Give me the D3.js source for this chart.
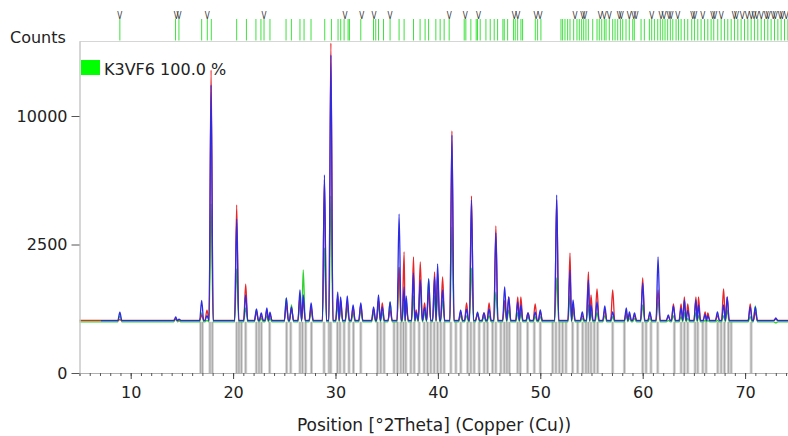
<!DOCTYPE html>
<html>
<head>
<meta charset="utf-8">
<script src="https://cdn.jsdelivr.net/npm/d3@7"></script>
<style>
  body { margin: 0; background: #fff; }
  svg { display: block; font-family: "DejaVu Sans", Verdana, sans-serif; }
</style>
</head>
<body>
<div id="box"></div>
<script>
// peak positions (deg 2Theta) and peak tops of the three profiles (counts)
var peakPos = [8.94, 14.40, 14.72, 16.93, 17.45, 17.85, 20.35, 21.23, 22.28, 22.75, 23.30, 23.60,
  25.20, 25.70, 26.53, 26.85, 27.62, 28.92, 29.55, 30.22, 30.50, 31.15, 31.72, 32.47, 33.72,
  34.20, 34.57, 35.33, 36.21, 36.70, 36.90, 37.62, 37.88, 38.28, 38.70, 39.10, 39.68, 39.97,
  40.46, 41.37, 42.22, 42.80, 43.28, 43.87, 44.50, 45.00, 45.66, 46.52, 46.92, 47.80, 48.10,
  48.80, 49.50, 50.00, 51.60, 52.90, 53.20, 54.10, 54.70, 54.95, 55.54, 56.30, 57.07, 58.40,
  58.70, 59.20, 60.00, 60.70, 61.50, 62.50, 63.00, 63.75, 64.07, 64.40, 65.20, 65.45, 66.10,
  66.36, 67.30, 67.90, 68.25, 70.50, 71.00, 73.00];
var redCounts = [430, 440, 425, 510, 600, 13900, 4273, 1196, 560, 500, 600, 520,
  700, 640, 900, 807, 660, 5640, 16487, 900, 807, 760, 650, 700, 620,
  807, 742, 600, 1700, 2217, 700, 2037, 601, 1865, 742, 1000, 1545, 1500,
  1395, 8867, 560, 742, 4743, 520, 545, 742, 3271, 800, 875, 875, 875,
  545, 721, 560, 4532, 2180, 700, 500, 1545, 921, 1068, 600, 1043, 560,
  520, 500, 1366, 520, 1043, 480, 721, 721, 875, 721, 875, 875, 563,
  545, 500, 1068, 875, 721, 560, 440];
var blueCounts = [560, 475, 440, 800, 500, 12560, 3591, 921, 620, 545, 640, 560,
  852, 660, 1043, 921, 742, 5935, 15310, 993, 875, 898, 700, 742, 660,
  921, 660, 763, 3828, 1120, 900, 1514, 560, 1309, 650, 1338, 1395, 1799,
  1043, 8576, 600, 620, 4532, 560, 545, 620, 2968, 1120, 875, 763, 700,
  545, 560, 601, 4797, 1606, 807, 563, 1309, 700, 763, 680, 563, 640,
  563, 545, 1226, 563, 2037, 509, 680, 640, 807, 600, 807, 700, 520,
  500, 563, 700, 875, 660, 660, 458];
var greenCounts = [500, 450, 410, 545, 420, 4325, 1638, 640, 600, 450, 500, 450,
  852, 700, 780, 1606, 600, 2366, 4743, 700, 700, 650, 550, 600, 550,
  700, 550, 763, 1669, 763, 807, 900, 500, 1226, 550, 1338, 900, 1000,
  800, 3226, 500, 500, 1669, 545, 480, 500, 993, 700, 600, 550, 550,
  480, 480, 480, 1366, 900, 600, 450, 700, 550, 550, 500, 480, 500,
  460, 450, 700, 450, 800, 420, 500, 480, 550, 450, 550, 500, 420,
  420, 420, 500, 600, 480, 680, 380];
var redBase = 418, blueBase = 414, greenBase = 396;

// peak list (top strip) and marked peaks
var listPos = [8.94, 14.38, 14.71, 16.93, 17.48, 17.87, 20.35, 21.3, 22.23, 22.72, 23.02, 23.6,
  25.17, 25.69, 26.53, 26.93, 27.61, 28.95, 29.6, 30.25, 30.51, 30.84, 31.23, 31.36, 32.47,
  33.71, 33.93, 34.2, 34.69, 35.33, 36.21, 36.7, 37.62, 38.26, 38.75, 39.09, 39.8, 40.22,
  40.61, 41.1, 42.57, 42.73, 43.22, 43.74, 43.87, 44.13, 44.69, 45.11, 45.5, 45.83, 46.35,
  46.48, 46.81, 47.39, 47.55, 47.79, 48.11, 48.27, 49.51, 49.74, 50.06, 52.02, 52.18, 52.41,
  52.67, 52.9, 53.26, 53.58, 53.81, 54.04, 54.24, 54.46, 54.69, 55.12, 55.54, 55.76, 56.0,
  56.25, 56.42, 56.74, 57.07, 57.3, 57.56, 57.82, 58.05, 58.37, 58.69, 59.03, 59.18, 59.84,
  60.16, 60.65, 60.88, 61.14, 61.47, 61.72, 61.96, 62.18, 62.44, 62.7, 62.94, 63.26, 63.49,
  63.75, 64.07, 64.4, 64.79, 65.05, 65.38, 65.7, 66.03, 66.36, 66.68, 66.94, 67.33, 67.66,
  67.98, 68.31, 68.64, 68.96, 69.29, 69.61, 69.94, 70.27, 70.59, 70.91, 71.24, 71.57, 71.89,
  72.22, 72.54, 72.87, 73.2, 73.52, 73.85, 74.18];
var markPos = [8.94, 14.45, 14.71, 17.48, 23.02, 30.93, 32.57, 33.77, 35.33, 41.1, 42.66, 43.97,
  47.45, 47.79, 49.57, 49.97, 53.39, 54.14, 54.33, 55.86, 56.25, 56.74, 57.72, 57.91, 58.69,
  59.12, 59.35, 60.88, 61.79, 62.09, 62.57, 62.77, 63.42, 64.89, 65.09, 65.87, 66.85, 67.04,
  67.66, 68.93, 69.17, 69.71, 70.2, 70.59, 70.88, 71.13, 71.57, 72.06, 72.25, 72.74, 72.94,
  73.43, 73.62, 74.01];

// reference pattern sticks (K3VF6)
var refPos = [16.83, 17.0, 17.74, 17.97, 20.35, 20.57, 20.81, 21.23, 22.27, 22.53, 22.76, 23.57,
  25.23, 25.63, 26.53, 26.77, 27.09, 27.65, 28.88, 29.37, 29.54, 30.19, 30.44, 30.84, 31.32,
  31.75, 32.47, 34.1, 34.42, 34.75, 35.72, 36.05, 36.38, 36.64, 36.87, 37.36, 37.68, 38.17,
  38.66, 38.99, 39.31, 39.64, 39.97, 40.29, 40.61, 41.27, 41.76, 42.24, 42.9, 43.22, 43.54,
  44.03, 44.52, 44.85, 45.34, 45.66, 46.15, 46.48, 46.74, 46.97, 47.79, 48.04, 48.76, 49.41,
  50.0, 51.21, 51.53, 51.86, 52.18, 52.51, 53.16, 53.65, 54.14, 54.46, 54.69, 54.95, 55.27,
  55.6, 57.07, 58.21, 60.0, 60.33, 60.81, 61.47, 63.09, 63.75, 64.07, 64.4, 65.12, 65.38,
  65.87, 66.19, 67.33, 67.66, 67.98, 68.37, 68.64, 70.59];

var yTicks = [0, 2500, 10000];
var xMajor = [10, 20, 30, 40, 50, 60, 70];

var w = 788, h = 436;

var svg = d3.select("#box")
            .append("svg")
            .attr("width", w)
            .attr("height", h);

var x = d3.scaleLinear().domain([5, 74.19]).range([79.5, 788]);
var y = d3.scaleSqrt().domain([0, 16690]).range([373, 41]);

// reference sticks
var refG = svg.append("g");
refG.selectAll("rect")
    .data(refPos)
    .enter()
    .append("rect")
    .attr("x", function(d) { return x(d) - 1.5; })
    .attr("y", y(greenBase))
    .attr("width", 3)
    .attr("height", y(0) - y(greenBase))
    .attr("fill", "#d2d2d2");
refG.selectAll("line")
    .data(refPos)
    .enter()
    .append("line")
    .attr("x1", function(d) { return x(d); })
    .attr("x2", function(d) { return x(d); })
    .attr("y1", y(greenBase))
    .attr("y2", y(0))
    .attr("stroke", "#a4a4a4")
    .attr("stroke-width", 1);

// top strip
svg.append("line")
   .attr("x1", 79.5).attr("x2", 788)
   .attr("y1", 41.5).attr("y2", 41.5)
   .attr("stroke", "#d6d6d6");

svg.append("g").selectAll("line")
   .data(listPos)
   .enter()
   .append("line")
   .attr("x1", function(d) { return x(d); })
   .attr("x2", function(d) { return x(d); })
   .attr("y1", 19)
   .attr("y2", 40.5)
   .attr("stroke", "#3fe03f")
   .attr("stroke-width", 1);

svg.append("g").selectAll("text")
   .data(markPos)
   .enter()
   .append("text")
   .text("V")
   .attr("x", function(d) { return x(d); })
   .attr("y", 19)
   .attr("text-anchor", "middle")
   .attr("textLength", 5)
   .attr("lengthAdjust", "spacingAndGlyphs")
   .attr("font-size", "10px")
   .attr("fill", "#333");

// profiles
var halfW = 0.2;
function profile(tops, base, start) {
  var pts = [[start, base]];
  peakPos.forEach(function(p, i) {
    if (p < start) return;
    var prev = peakPos[i - 1], next = peakPos[i + 1];
    var left = prev !== undefined ? Math.max(p - halfW, (prev + p) / 2) : p - halfW;
    var right = next !== undefined ? Math.min(p + halfW, (p + next) / 2) : p + halfW;
    pts.push([left, base], [p, tops[i]], [right, base]);
  });
  pts.push([74.19, base]);
  return pts;
}

var line = d3.line()
             .x(function(d) { return x(d[0]); })
             .y(function(d) { return y(d[1]); })
             .curve(d3.curveMonotoneX);

svg.append("path")
   .attr("d", line(profile(greenCounts, greenBase, 5)))
   .attr("fill", "none")
   .attr("stroke", "#2fd12f")
   .attr("stroke-width", 1.3);

svg.append("path")
   .attr("d", line(profile(redCounts, redBase, 5)))
   .attr("fill", "none")
   .attr("stroke", "#e8262a")
   .attr("stroke-width", 1.3);

svg.append("path")
   .attr("d", line(profile(blueCounts, blueBase, 7.1)))
   .attr("fill", "none")
   .attr("stroke", "#2b2be6")
   .attr("stroke-width", 1.3);

// axes
var xMinor = svg.append("g")
   .attr("transform", "translate(0,373)")
   .call(d3.axisBottom(x).tickValues(d3.range(5, 75)).tickSize(3).tickFormat(""));
xMinor.select(".domain").attr("stroke", "#b0b0b0");
xMinor.selectAll(".tick line").attr("stroke", "#555");

var xAxis = svg.append("g")
   .attr("transform", "translate(0,373)")
   .call(d3.axisBottom(x).tickValues(xMajor).tickSize(6).tickPadding(8).tickFormat(d3.format("d")));
xAxis.select(".domain").remove();
xAxis.selectAll(".tick line").attr("stroke", "#444");
xAxis.selectAll("text")
     .attr("font-family", "'DejaVu Sans', sans-serif")
     .attr("font-size", "16px")
     .attr("fill", "#222");

var yAxis = svg.append("g")
   .attr("transform", "translate(79.5,0)")
   .call(d3.axisLeft(y).tickValues(yTicks).tickSize(8).tickPadding(4).tickSizeOuter(0).tickFormat(d3.format("d")));
yAxis.select(".domain").attr("stroke", "#c8c8c8").attr("stroke-width", 1.5);
yAxis.selectAll(".tick line").attr("stroke", "#555");
yAxis.selectAll("text")
     .attr("font-family", "'DejaVu Sans', sans-serif")
     .attr("font-size", "16px")
     .attr("fill", "#222");

svg.append("text")
   .text("Counts")
   .attr("x", 10)
   .attr("y", 43)
   .attr("font-size", "16px")
   .attr("fill", "#222");

svg.append("text")
   .text("Position [°2Theta] (Copper (Cu))")
   .attr("x", 434)
   .attr("y", 431)
   .attr("text-anchor", "middle")
   .attr("font-size", "17px")
   .attr("fill", "#222");

// legend
svg.append("rect")
   .attr("x", 81).attr("y", 60)
   .attr("width", 19).attr("height", 15)
   .attr("fill", "#00ff00");
svg.append("text")
   .text("K3VF6 100.0 %")
   .attr("x", 104)
   .attr("y", 75)
   .attr("font-size", "16px")
   .attr("fill", "#222");
</script>
</body>
</html>
